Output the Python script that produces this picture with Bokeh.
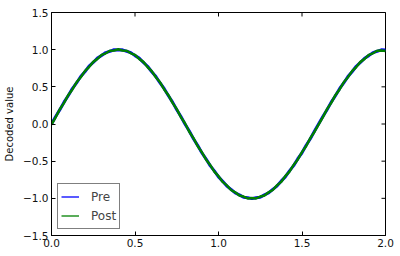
import math
from bokeh.plotting import figure
from bokeh.models import (Range1d, LinearAxis, FixedTicker, Legend, LegendItem,
                          CustomJSTickFormatter)
from bokeh.embed import file_html
from bokeh.resources import INLINE

x_vals = [i * 0.025 for i in range(81)]

pre = [0.000, 0.102, 0.193, 0.294, 0.380, 0.476, 0.552, 0.639, 0.703, 0.778,
       0.828, 0.886, 0.921, 0.961, 0.978, 0.999, 0.994, 0.998, 0.978, 0.960,
       0.920, 0.886, 0.828, 0.777, 0.703, 0.638, 0.552, 0.475, 0.380, 0.294,
       0.191, 0.101, -0.003, -0.095, -0.199, -0.287, -0.387, -0.468, -0.560,
       -0.630, -0.711, -0.770, -0.835, -0.879, -0.928, -0.954, -0.985, -0.992,
       -1.004, -0.991, -0.985, -0.953, -0.928, -0.879, -0.835, -0.769, -0.711,
       -0.630, -0.560, -0.467, -0.387, -0.286, -0.199, -0.094, 0.003, 0.101,
       0.191, 0.294, 0.380, 0.475, 0.552, 0.638, 0.703, 0.777, 0.828, 0.885,
       0.920, 0.960, 0.978, 0.998, 0.996]

post = [-0.010, 0.092, 0.199, 0.284, 0.388, 0.465, 0.561, 0.628, 0.712, 0.767,
        0.836, 0.876, 0.929, 0.951, 0.986, 0.989, 1.005, 0.988, 0.986, 0.951,
        0.929, 0.876, 0.836, 0.767, 0.712, 0.628, 0.561, 0.465, 0.388, 0.284,
        0.200, 0.092, 0.006, -0.104, -0.190, -0.296, -0.378, -0.477, -0.551,
        -0.640, -0.702, -0.779, -0.826, -0.888, -0.919, -0.963, -0.976, -1.001,
        -0.995, -1.001, -0.976, -0.963, -0.919, -0.888, -0.826, -0.779, -0.702,
        -0.640, -0.551, -0.477, -0.378, -0.296, -0.190, -0.104, -0.006, 0.092,
        0.200, 0.284, 0.388, 0.465, 0.561, 0.628, 0.712, 0.767, 0.836, 0.876,
        0.929, 0.951, 0.986, 0.989, 0.982]

x_ticks = [0.0, 0.5, 1.0, 1.5, 2.0]
y_ticks = [-1.5, -1.0, -0.5, 0.0, 0.5, 1.0, 1.5]
y_label = "Decoded value"
series_names = ["Pre", "Post"]

FONT = "DejaVu Sans"
X0, X1, Y0, Y1 = 0, 2, -1.5, 1.5

p = figure(width=400, height=256, output_backend="svg", toolbar_location=None,
           x_range=Range1d(X0, X1), y_range=Range1d(Y0, Y1),
           min_border_left=51, min_border_right=15, min_border_top=12,
           min_border_bottom=21, x_axis_location=None, y_axis_location=None)
p.grid.visible = False
p.outline_line_color = "black"
p.outline_line_width = 1
p.background_fill_color = "white"
p.border_fill_color = "white"

fmt = CustomJSTickFormatter(code="return tick.toFixed(1).replace('-', '\u2212');")

def styled_axis(axis, ticks):
    axis.ticker = FixedTicker(ticks=ticks)
    axis.formatter = fmt
    axis.major_tick_in = 4
    axis.major_tick_out = 0
    axis.minor_tick_line_color = None
    axis.axis_line_color = "black"
    axis.major_tick_line_color = "black"
    axis.major_label_text_font = FONT
    axis.major_label_text_font_size = "10.5px"
    axis.major_label_text_color = "#111111"
    axis.major_label_standoff = 3
    return axis

xb = styled_axis(LinearAxis(), x_ticks)
yl = styled_axis(LinearAxis(), y_ticks)
yl.axis_label = y_label
yl.axis_label_text_font = FONT
yl.axis_label_text_font_size = "10px"
yl.axis_label_text_font_style = "normal"
yl.axis_label_text_color = "#111111"
yl.axis_label_standoff = 5
p.add_layout(xb, "below")
p.add_layout(yl, "left")

# inward ticks on the top and right frame edges (clipped to the frame)
p.scatter(x_ticks, [Y1] * len(x_ticks), marker="dash", angle=math.pi / 2,
          size=8, line_color="black", line_width=1)
p.scatter([X1] * len(y_ticks), y_ticks, marker="dash", size=8,
          line_color="black", line_width=1)

p.line(x_vals, pre, line_color="blue", line_width=3)
leg_pre = p.line(x_vals, pre, line_color="blue", line_width=1.3)
p.line(x_vals, post, line_color="green", line_width=2.5)
leg_post = p.line(x_vals, post, line_color="green", line_width=1.3)

legend = Legend(items=[LegendItem(label=series_names[0], renderers=[leg_pre]),
                       LegendItem(label=series_names[1], renderers=[leg_post])],
                location="bottom_left")
legend.label_text_font = FONT
legend.label_text_font_size = "12px"
legend.border_line_color = "black"
legend.border_line_width = 1
legend.margin = 6
legend.padding = 3
legend.spacing = 0
legend.glyph_width = 18
legend.glyph_height = 19
legend.label_height = 19
legend.label_standoff = 12
legend.background_fill_alpha = 1
p.add_layout(legend, "center")

open("out.html", "w").write(file_html(p, INLINE))
